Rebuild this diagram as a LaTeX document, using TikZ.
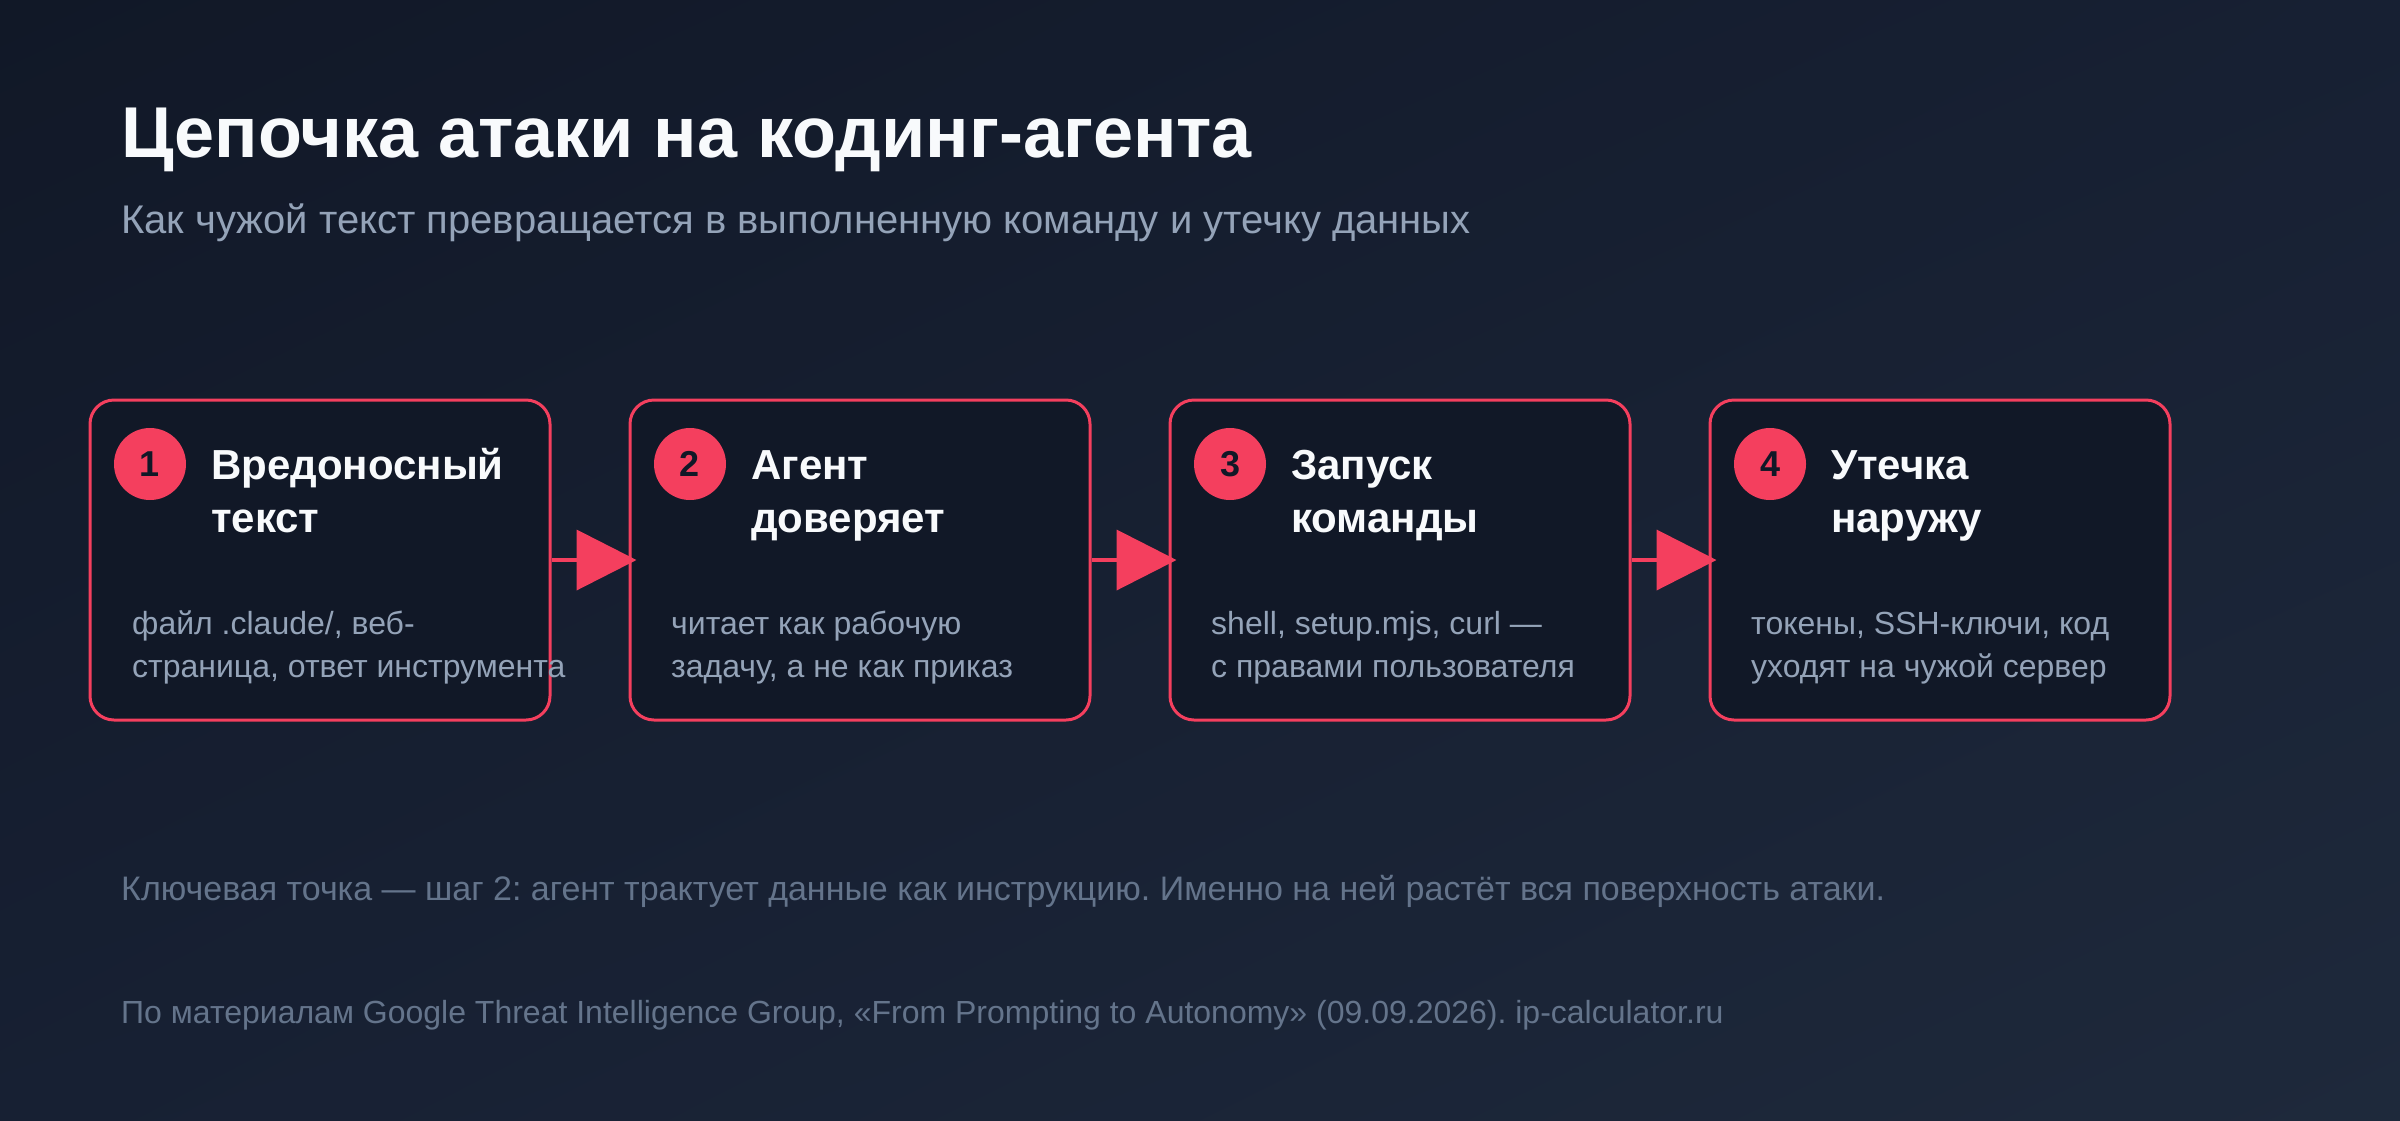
\documentclass[tikz,border=0pt]{standalone}
\usepackage{fontspec}
\setmainfont{Liberation Sans}
\usepackage{tikz}
\usetikzlibrary{arrows.meta,positioning,shadings}
\definecolor{bgdark}{HTML}{111827}
\definecolor{bgmid}{HTML}{172033}
\definecolor{bglight}{HTML}{1E293B}
\definecolor{boxfill}{HTML}{111827}
\definecolor{accent}{HTML}{F43F5E}
\definecolor{headcol}{HTML}{F8FAFC}
\definecolor{subcol}{HTML}{94A3B8}
\definecolor{notecol}{HTML}{64748B}
\newcommand{\twolines}[2]{\begin{tabular}[t]{@{}l@{}}#1\\#2\end{tabular}}
\frenchspacing

\begin{document}
\begin{tikzpicture}[x=1pt, y=-1pt,
 stepbox/.style={draw=accent, line width=3pt, fill=boxfill, rounded corners=24pt,
   minimum width=460pt, minimum height=320pt},
 badge/.style={circle, fill=accent, minimum size=72pt, inner sep=0pt, text=boxfill,
   font=\bfseries\fontsize{36}{36}\selectfont},
 steptitle/.style={anchor=base west, inner sep=0pt, text=headcol,
   font=\bfseries\fontsize{42}{53}\selectfont},
 stepdesc/.style={anchor=base west, inner sep=0pt, text=subcol,
   font=\fontsize{32}{43}\selectfont},
 note/.style={anchor=base west, inner sep=0pt, text=notecol},
 flow/.style={draw=accent, line width=4pt, -{Triangle[length=60pt, width=60pt]},
   shorten >=-8pt}]
 % background
 \shade[upper left=bgdark, upper right=bgmid, lower left=bgmid, lower right=bglight]
   (0,0) rectangle (2400,1120);
 \useasboundingbox (0,0) rectangle (2400,1120);

 % heading
 \node[anchor=base west, inner sep=0pt, text=headcol, font=\bfseries\fontsize{72}{80}\selectfont]
   (title) at (121,157) {Цепочка атаки на кодинг-агента};
 \node[anchor=base west, inner sep=0pt, text=subcol, font=\fontsize{40}{46}\selectfont]
   (subtitle) at (121,233) {Как чужой текст превращается в выполненную команду и утечку данных};

 % steps
 \node[stepbox] (b1) at (320,560) {};
 \node[stepbox] (b2) at (860,560) {};
 \node[stepbox] (b3) at (1400,560) {};
 \node[stepbox] (b4) at (1940,560) {};

 \node[badge] (n1) at (150,464) {1};
 \node[badge] (n2) at (690,464) {2};
 \node[badge] (n3) at (1230,464) {3};
 \node[badge] (n4) at (1770,464) {4};

 \node[steptitle] (h1) at (211,479) {\twolines{Вредоносный}{текст}};
 \node[steptitle] (h2) at (751,479) {\twolines{Агент}{доверяет}};
 \node[steptitle] (h3) at (1291,479) {\twolines{Запуск}{команды}};
 \node[steptitle] (h4) at (1831,479) {\twolines{Утечка}{наружу}};

 \node[stepdesc] (d1) at (132,634) {\twolines{файл .claude/, веб-}{страница, ответ инструмента}};
 \node[stepdesc] (d2) at (671,634) {\twolines{читает как рабочую}{задачу, а не как приказ}};
 \node[stepdesc] (d3) at (1211,634) {\twolines{shell, setup.mjs, curl ---}{с правами пользователя}};
 \node[stepdesc] (d4) at (1751,634) {\twolines{токены, SSH-ключи, код}{уходят на чужой сервер}};

 \draw[flow] (b1) -- (b2);
 \draw[flow] (b2) -- (b3);
 \draw[flow] (b3) -- (b4);

 % notes
 \node[note, font=\fontsize{34}{38}\selectfont] (key) at (121,900) {Ключевая точка --- шаг 2: агент трактует данные как инструкцию. Именно на ней растёт вся поверхность атаки.};
 \node[note, font=\fontsize{32}{38}\selectfont] (src) at (121,1023) {По материалам Google Threat Intelligence Group, «From Prompting to Autonomy» (09.09.2026). ip-calculator.ru};
\end{tikzpicture}
\end{document}
